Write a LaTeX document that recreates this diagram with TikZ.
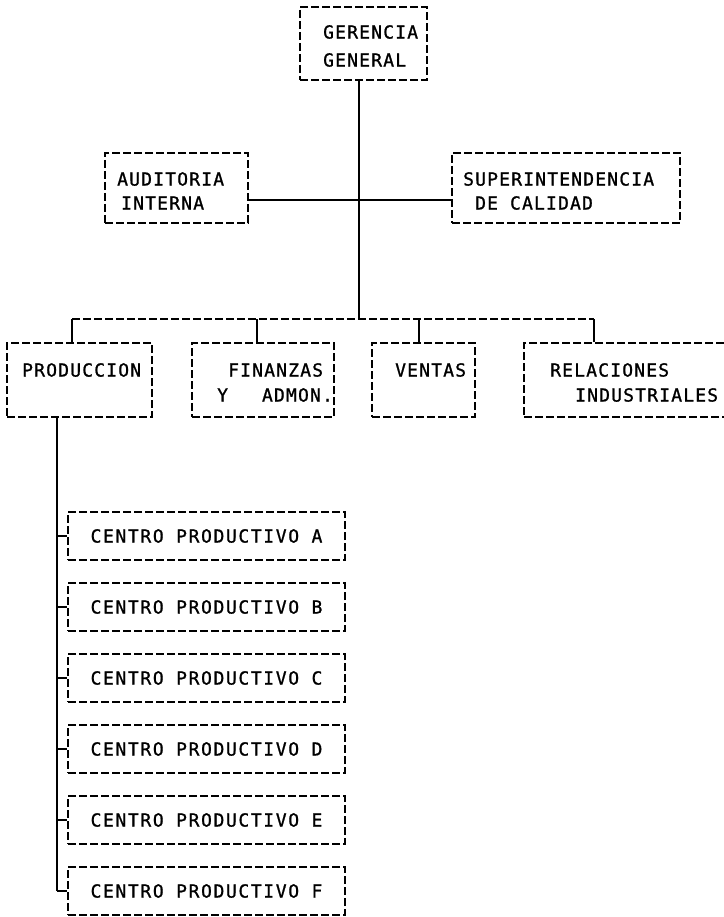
\documentclass[tikz,border=0pt]{standalone}
\usepackage{fontspec}
\usepackage{tikz}
\usetikzlibrary{calc}

\newfontfamily\orgfont[LetterSpace=6.5,FakeBold=1]{DejaVu Sans Mono}
\newfontfamily\cpfont[LetterSpace=9,FakeBold=1]{DejaVu Sans Mono}

\tikzset{
  unitbox/.style={draw, dash pattern=on 8pt off 3pt, line width=1.2pt, inner sep=0pt},
  unittext/.style={anchor=north west, inner sep=0pt, align=left, font=\orgfont\fontsize{18}{24}\selectfont},
  cpbox/.style={unitbox, minimum width=277pt, minimum height=48pt, font=\cpfont\fontsize{18}{20}\selectfont},
  orgline/.style={line width=1.2pt},
  busline/.style={line width=1.2pt, dash pattern=on 8pt off 3pt}
}

\begin{document}
\begin{tikzpicture}[x=1pt,y=1pt,yscale=-1]
  \useasboundingbox (0,0) rectangle (723,917);

  % direccion
  \node[unitbox, minimum width=127pt, minimum height=73pt] (gerencia) at (363.5,43.5) {};
  \node[unitbox, minimum width=143pt, minimum height=70pt] (auditoria) at (176.5,188) {};
  \node[unitbox, minimum width=228pt, minimum height=70pt] (calidad) at (566,188) {};

  \draw (323,25) node[unittext] (gerenciatxt) {GERENCIA\\[4pt]GENERAL};
  \draw (117,172) node[unittext] (auditoriatxt) {AUDITORIA\\\hspace*{4pt}INTERNA};
  \draw (463,172) node[unittext] (calidadtxt) {SUPERINTENDENCIA\\\hspace*{12pt}DE CALIDAD};

  \coordinate (staff) at (359,200);
  \coordinate (busT) at (359,319);
  \draw[orgline] (busT |- gerencia.south) -- (busT);
  \draw[orgline] (auditoria.east |- staff) -- (calidad.west |- staff);

  % departamentos
  \node[unitbox, minimum width=145pt, minimum height=74pt] (produccion) at (79.5,380) {};
  \node[unitbox, minimum width=142pt, minimum height=74pt] (finanzas) at (263,380) {};
  \node[unitbox, minimum width=103pt, minimum height=74pt] (ventas) at (423.5,380) {};
  \node[unitbox, minimum width=206pt, minimum height=74pt] (relaciones) at (627,380) {};

  \draw (22,363) node[unittext] (produccintxt) {PRODUCCION};
  \draw (217,363) node[unittext] (finanzastxt) {\hspace*{11pt}FINANZAS\\[1pt]Y\hspace*{34pt}ADMON.};
  \draw (395,363) node[unittext] (ventastxt) {VENTAS};
  \draw (550,363) node[unittext] (relacionestxt) {RELACIONES\\[1pt]\hspace*{25pt}INDUSTRIALES};

  \coordinate (busP) at (72,319);
  \coordinate (busF) at (257,319);
  \coordinate (busV) at (419,319);
  \coordinate (busR) at (594,319);
  \draw[busline] (busP) -- (busR);
  \foreach \d/\u in {busP/produccion, busF/finanzas, busV/ventas, busR/relaciones}
    \draw[orgline] (\d) -- (\d |- \u.north);

  % centros productivos
  \foreach \l [count=\i from 0] in {A,B,C,D,E,F}
    \node[cpbox] (cp\l) at (206.5,{536+71*\i}) {CENTRO PRODUCTIVO \l};

  \coordinate (spinex) at (57,0);
  \coordinate (spinetop) at (spinex |- produccion.south);
  \draw[orgline] (spinetop) -- (spinetop |- cpF.west);
  \foreach \l in {A,B,C,D,E,F}
    \draw[orgline] (spinetop |- cp\l.west) -- (cp\l.west);
\end{tikzpicture}
\end{document}
